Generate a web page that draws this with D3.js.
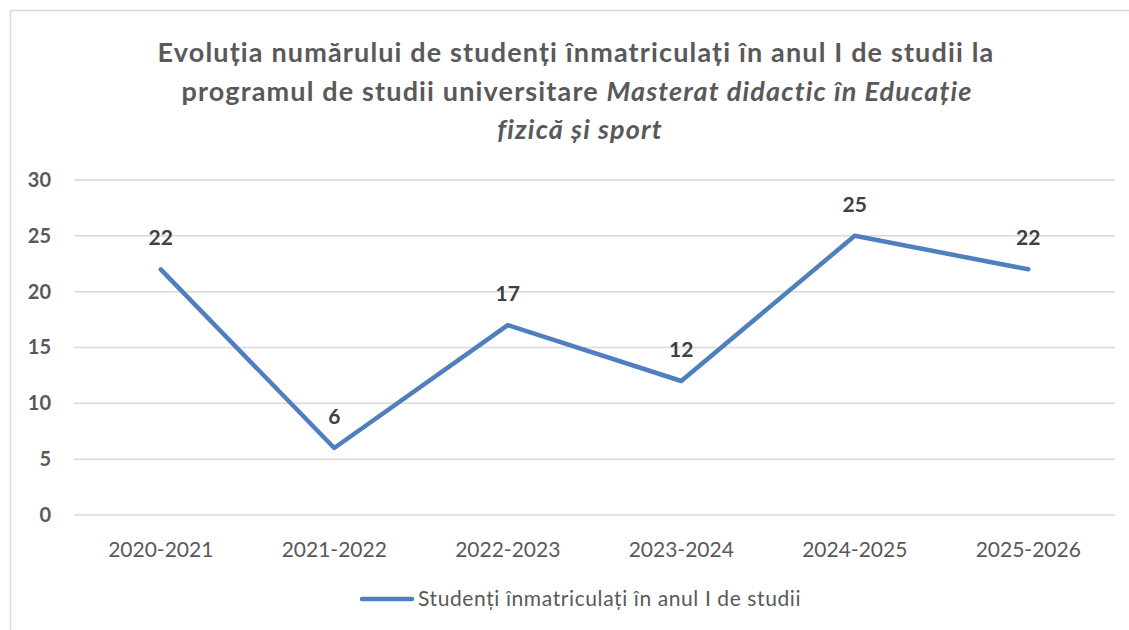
<!DOCTYPE html>
<html>
<head>
<meta charset="utf-8">
<script src="https://cdn.jsdelivr.net/npm/d3@7"></script>
<style>
  body { margin: 0; background: #fff; }
  svg { font-family: Lato, "Open Sans", sans-serif; }
</style>
</head>
<body>
<div id="chart"></div>
<script>
// data
const years = ["2020-2021", "2021-2022", "2022-2023", "2023-2024", "2024-2025", "2025-2026"];
const students = [22, 6, 17, 12, 25, 22];
const yTicks = [0, 5, 10, 15, 20, 25, 30];
const seriesName = "Studenți înmatriculați în anul I de studii";

const W = 1129, H = 630;
const margin = {top: 180, right: 14, bottom: 115, left: 74};
const width = W - margin.left - margin.right;
const height = H - margin.top - margin.bottom;

const svg = d3.select("#chart")
    .append("svg")
    .attr("width", W)
    .attr("height", H);

// chart frame
svg.append("rect")
    .attr("x", 10.5).attr("y", 10.5)
    .attr("width", W + 20).attr("height", H + 20)
    .attr("fill", "none")
    .attr("stroke", "#d9d9d9")
    .attr("stroke-width", 1.5);

// title
const title = svg.append("text")
    .attr("text-anchor", "middle")
    .attr("fill", "#595959")
    .style("font-size", "27px")
    .style("font-weight", "bold")
    .style("letter-spacing", "1.15px");
title.append("tspan").attr("x", 576).attr("y", 62)
    .text("Evoluția numărului de studenți înmatriculați în anul I de studii la");
const l2 = title.append("tspan").attr("x", 577).attr("y", 101);
l2.append("tspan").text("programul de studii universitare ");
l2.append("tspan").style("font-style", "italic").text("Masterat didactic în Educație");
title.append("tspan").attr("x", 580).attr("y", 139)
    .style("font-style", "italic").text("fizică și sport");

const g = svg.append("g")
    .attr("transform", `translate(${margin.left},${margin.top})`);

const x = d3.scaleBand().domain(years).range([0, width]);
const y = d3.scaleLinear().domain([0, 30]).range([height, 0]);

// gridlines
g.append("g")
    .selectAll("line")
    .data(yTicks)
    .join("line")
    .attr("x1", 0).attr("x2", width)
    .attr("y1", d => y(d)).attr("y2", d => y(d))
    .attr("stroke", "#d9d9d9")
    .attr("stroke-width", 1.5);

// y labels
g.append("g")
    .call(d3.axisLeft(y).tickValues(yTicks).tickSize(0).tickPadding(23))
    .call(a => a.select(".domain").remove())
    .selectAll("text")
    .attr("fill", "#595959")
    .style("font-family", "Lato, sans-serif")
    .style("font-size", "20px")
    .style("font-weight", "bold");

// x labels
g.append("g")
    .attr("transform", `translate(0,${height})`)
    .call(d3.axisBottom(x).tickSize(0).tickPadding(27))
    .call(a => a.select(".domain").remove())
    .selectAll("text")
    .attr("fill", "#595959")
    .style("font-family", "Lato, sans-serif")
    .style("font-size", "21px");

const cx = d => x(d) + x.bandwidth() / 2;

// line
const line = d3.line()
    .x((d, i) => cx(years[i]))
    .y(d => y(d));

g.append("path")
    .datum(students)
    .attr("d", line)
    .attr("fill", "none")
    .attr("stroke", "#4f7fbe")
    .attr("stroke-width", 4.5)
    .attr("stroke-linejoin", "round")
    .attr("stroke-linecap", "round");

// data labels
g.selectAll(".lbl")
    .data(students)
    .join("text")
    .attr("class", "lbl")
    .attr("x", (d, i) => cx(years[i]))
    .attr("y", d => y(d) - 24)
    .attr("text-anchor", "middle")
    .attr("fill", "#404040")
    .style("font-size", "21px")
    .style("font-weight", "bold")
    .text(d => d);

// legend
svg.append("line")
    .attr("x1", 362).attr("x2", 412)
    .attr("y1", 599).attr("y2", 599)
    .attr("stroke", "#4f7fbe")
    .attr("stroke-width", 4.5)
    .attr("stroke-linecap", "round");
svg.append("text")
    .attr("x", 418).attr("y", 606)
    .attr("fill", "#595959")
    .style("font-size", "21px")
    .style("letter-spacing", "0.6px")
    .text(seriesName);
</script>
</body>
</html>
